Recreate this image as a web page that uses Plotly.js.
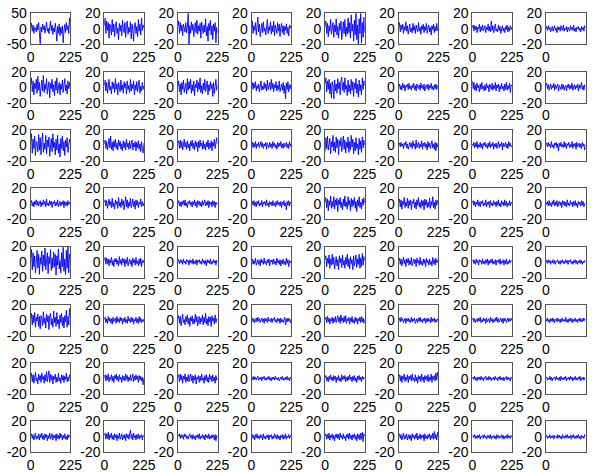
<!DOCTYPE html>
<html>
<head>
<meta charset="utf-8">
<script src="https://cdn.plot.ly/plotly-3.0.1.min.js"></script>
<style>
  html, body { margin: 0; padding: 0; background: #ffffff; }
  #chart { width: 597px; height: 472px; }
</style>
</head>
<body>
<div id="chart"></div>
<script>
// Sample axis: 51 samples spanning 0..225
const xStart = 0;
const xStep = 4.5;
const xTicks = [0, 225];
const xTickText = ['0', '225'];
const yTicksWide = [-50, 0, 50];
const yTicksNarrow = [-20, 0, 20];

// Channel traces, one row of the 8x8 grid per array
const row1 = [
  [5,18,-8,12,-15,6,2,-10,14,-4,20,-12,-48,6,-10,15,-3,10,-14,4,22,-8,2,-16,10,25,-6,12,-18,3,-10,18,-4,-40,8,-14,16,-22,5,-15,10,-45,-8,14,-12,20,-3,10,-15,35,8],
  [4,14,-6,10,-2,8,-12,6,2,-8,12,-4,6,-10,3,9,-6,1,-14,7,-3,5,-9,11,0,-5,8,-11,4,10,-7,2,-4,9,-13,6,-2,-16,5,8,-6,3,-10,12,-3,6,-8,14,-2,5,1],
  [4,10,-6,8,-3,5,-9,6,1,-4,8,-5,3,20,-20,4,-6,9,-2,6,-10,3,8,-5,11,-7,4,-3,7,-12,9,1,-6,5,-4,13,-9,3,-16,7,-2,11,-8,4,-14,6,-3,8,-18,2,-5],
  [2,10,-6,4,-2,8,-8,3,15,-4,6,-10,2,7,-5,9,-3,1,-8,6,12,-6,3,-2,9,-7,4,-4,10,-9,5,0,-6,8,-3,6,-10,2,7,-5,4,-8,3,-2,6,-6,2,-9,5,1,4],
  [3,10,-6,7,-10,4,-3,12,-7,2,8,-11,5,-4,13,-8,3,-12,7,-2,10,-14,4,9,-6,12,-10,2,-7,14,-5,8,-12,18,-3,6,-16,11,-8,20,-14,5,-20,13,-6,20,-18,8,-11,15,-5],
  [2,8,-4,5,-1,6,-6,3,-2,9,-3,4,-7,2,6,-4,1,-5,7,-2,3,-6,5,0,-4,8,-3,2,-7,4,-1,6,-5,3,-2,7,-6,1,5,-4,2,-8,4,-1,6,-5,3,-3,7,-2,1],
  [1,5,-3,4,-1,3,-5,2,0,6,-4,3,-2,5,-3,1,4,-5,2,-1,6,-3,3,-4,10,-2,4,-5,2,6,-3,0,-4,5,-2,3,-6,2,4,-3,1,-5,3,-1,5,-4,2,-3,4,-1,2],
  [0,3,-2,4,-1,2,-4,1,3,-3,0,4,-2,1,-5,3,-1,2,-3,4,0,-2,5,-3,1,-1,3,-4,2,0,-3,4,-1,2,-2,5,-3,1,-4,2,0,3,-2,1,-4,3,-1,2,-3,4,1]
];
const row2 = [
  [3,12,-6,8,-10,5,-2,10,-8,14,-4,6,-12,2,9,-5,15,-7,4,-3,11,-9,1,7,-14,5,-2,10,-6,3,-11,8,-4,12,-8,2,6,-10,4,-3,9,-7,1,11,-5,3,-9,8,-2,6,0],
  [2,9,-5,6,-8,3,10,-4,1,-9,7,-2,5,-7,11,-3,4,-10,6,0,-6,9,-4,3,-8,7,-1,5,-9,8,-3,2,-7,10,-5,4,-2,8,-10,3,-4,7,-6,2,9,-8,1,-5,6,-3,2],
  [1,8,-6,4,-10,6,-3,9,-7,2,5,-9,11,-4,7,-2,10,-8,3,-5,8,-11,4,-1,9,-6,6,-3,12,-7,2,-9,5,-4,10,-6,1,8,-10,3,-5,7,-2,4,-12,6,-8,3,10,-4,2],
  [2,6,-3,5,-1,7,-5,2,-2,4,-6,3,8,-4,1,-3,6,-2,4,-5,9,-3,2,6,-4,10,-2,5,-6,3,-1,7,-5,2,-3,8,-6,1,4,-4,6,-8,2,-15,5,-3,7,-6,3,-2,4],
  [4,12,-6,8,-3,10,-9,5,-14,7,2,-15,9,-5,4,-8,11,-2,6,-10,8,13,-4,6,-7,12,-3,2,-11,9,-6,3,-9,10,-4,7,-12,5,-2,11,-8,4,-13,9,-5,3,-10,12,-3,8,2],
  [1,4,-3,2,-4,5,-1,3,-5,2,0,4,-3,5,-2,1,-4,3,-1,5,-3,2,-5,4,0,-2,3,-4,5,-1,2,-3,4,-5,1,3,-2,4,-4,2,-1,5,-3,1,-4,3,-2,4,-3,2,0],
  [8,-2,6,-4,3,-5,5,-1,2,-6,4,-3,6,-2,1,-5,3,-4,5,-1,2,-6,4,0,-3,5,-4,2,-2,6,-5,3,-1,4,-6,2,-3,5,-2,1,-5,4,-3,6,-4,2,-2,5,-7,3,1],
  [2,5,-2,3,-4,1,4,-3,2,-1,5,-4,3,-2,1,4,-5,2,0,-3,4,-2,3,-4,1,2,-5,3,-1,4,-3,2,-2,5,-4,1,3,-3,2,-1,4,-5,3,-2,1,6,-3,2,-4,3,1]
];
const row3 = [
  [6,15,-10,8,-4,12,-13,5,2,-8,14,-6,10,-12,4,16,-9,3,-5,13,-11,7,-2,11,-14,6,9,-8,15,-3,4,-12,8,-6,13,-10,2,-15,9,-4,12,-7,5,-13,7,-2,10,-9,4,8,2],
  [2,7,-4,5,-6,3,9,-3,12,-5,4,-7,6,-2,8,-4,3,-6,7,-1,5,-5,2,-7,6,-3,4,-6,8,-2,3,-5,6,-4,1,7,-6,3,-2,5,-7,4,-3,6,-5,2,-8,5,-4,-10,3],
  [3,6,-4,7,-3,5,-6,2,8,-2,4,-5,6,-3,2,-7,5,-1,7,-4,3,-6,6,-2,4,-8,5,-3,7,-1,3,-5,6,-4,2,-6,4,-2,7,-5,3,-3,6,-7,4,-1,8,-4,5,10,2],
  [1,4,-3,3,-2,5,-4,2,-1,4,-3,1,5,-2,3,-4,2,-1,4,-5,3,0,-3,4,-2,2,-4,5,-1,3,-3,1,-5,4,-2,3,-1,5,-3,2,-4,3,-2,1,4,-3,2,-4,5,-1,2],
  [-8,10,-4,12,-6,3,9,-11,5,-2,13,-7,4,-9,11,-3,8,-12,6,-1,10,-8,3,12,-5,7,-10,4,-3,11,-9,5,-6,13,-2,8,-11,4,-7,10,-4,2,-12,9,-5,6,-9,11,-3,7,0],
  [1,3,-2,4,-1,2,-4,3,0,5,-3,2,-5,1,4,-2,3,-4,6,-1,2,-5,7,-3,1,4,-4,2,-2,6,-5,3,-1,4,-3,2,-6,5,-2,3,-4,1,6,-3,2,-5,4,-7,3,-2,1],
  [2,-1,4,-3,3,-2,5,-4,1,-2,4,-3,2,-5,3,0,4,-2,1,-4,3,-2,5,-3,2,-1,4,-5,2,-2,3,-4,1,5,-3,2,-1,4,-6,3,-2,1,4,-3,2,-4,5,-1,3,-2,0],
  [1,3,-2,4,-1,2,-3,5,-2,1,-4,3,0,4,-3,2,-7,3,-1,4,-2,1,-3,5,-2,3,-4,2,0,4,-3,1,-2,5,-4,2,-1,3,-5,4,-2,1,3,-3,2,-4,4,-1,2,-6,1]
];
const row4 = [
  [1,4,-3,2,-4,3,-1,5,-2,3,-3,1,4,-4,2,-2,5,-1,3,-4,6,-2,1,-3,4,-1,3,-5,2,0,4,-3,2,-2,5,-4,1,3,-3,2,-1,4,-5,3,-2,2,-3,4,-1,2,0],
  [2,5,-3,4,-6,2,6,-2,3,-5,7,-4,1,-7,5,-1,3,-6,8,-3,2,-5,6,-2,4,-8,3,9,-4,5,-6,2,-3,7,-5,1,6,-4,3,-7,5,-2,4,-5,2,-1,6,-4,3,-3,1],
  [0,4,-3,2,-4,3,-1,4,-2,5,-3,1,-5,3,0,4,-2,2,-4,3,-1,5,-3,2,-5,4,-1,3,-3,2,-4,4,-2,1,5,-3,2,-2,4,-5,3,-1,2,-4,4,-2,3,-5,2,-1,1],
  [1,3,-2,4,-3,2,-4,3,-1,4,-3,1,-2,4,-4,2,0,3,-3,5,-2,1,-4,3,-1,2,-3,4,-2,1,-4,3,-2,4,-1,2,-3,3,-5,2,-1,4,-3,1,-8,3,-2,4,-3,2,0],
  [2,8,-5,6,-9,4,-2,10,-6,3,-4,9,-7,5,-2,7,-10,5,-1,8,-5,2,-8,6,-3,10,-4,2,-7,9,-2,4,-9,7,-4,5,-2,8,-6,3,-10,5,-3,9,-5,2,-7,6,-2,8,1],
  [2,6,-4,5,-7,3,-1,8,-5,2,-3,7,-6,4,-2,5,-8,3,0,6,-5,2,-7,5,-2,8,-4,2,-6,5,-3,4,-8,6,-2,5,-5,2,-4,7,-6,3,-2,9,-5,2,-7,5,-2,4,1],
  [1,4,-2,3,-4,2,-1,5,-3,2,-4,3,0,4,-3,1,-2,5,-4,2,-1,3,-5,4,-2,1,-3,4,-1,2,-4,3,-2,5,-3,1,-4,4,-1,2,-3,5,-2,3,-4,1,-2,4,-3,2,0],
  [2,-1,3,-3,4,-2,1,-4,3,-1,5,-3,2,-2,4,-4,1,3,-2,2,-5,4,-1,3,-3,2,-4,5,-2,1,-3,4,-1,2,-4,3,-2,4,-3,1,-5,3,-1,2,-3,4,-2,3,-4,1,2]
];
const row5 = [
  [5,16,-10,12,-6,8,-14,4,15,-8,10,-16,6,-3,14,-12,9,-5,18,-10,3,12,-15,7,-2,16,-11,5,-8,13,-6,10,-17,8,-4,17,-9,2,-14,12,-6,19,-12,4,-16,15,-8,20,-14,10,6],
  [2,6,-3,5,-2,4,-5,3,-1,6,-4,2,-6,4,0,5,-3,2,-5,7,-2,3,-4,5,-1,4,-6,3,-2,6,-5,1,4,-3,2,-6,5,-1,3,-4,6,-2,1,-5,4,-3,5,-6,2,-1,3],
  [4,2,-2,3,-1,2,-3,4,-1,1,-3,3,0,2,-4,3,-1,2,-2,4,-3,1,-2,3,-4,2,0,3,-2,1,-3,4,-1,2,-3,2,-5,3,-1,2,-2,4,-3,1,-2,3,-1,2,-4,2,0],
  [1,4,-3,2,-2,5,-4,1,3,-3,2,-5,4,-1,2,-3,5,-2,1,-4,3,-1,4,-5,2,0,3,-3,4,-2,1,-4,5,-1,2,-3,3,-5,2,-2,4,-3,1,-4,5,-2,3,-6,2,-1,1],
  [3,8,-6,5,-2,9,-8,4,-4,10,-3,6,-9,2,7,-5,3,-10,8,-1,5,-7,9,-4,2,-8,6,-3,10,-6,4,-9,7,-2,3,-10,8,-5,1,9,-7,4,-3,10,-8,5,-6,11,-4,7,2],
  [1,5,-3,4,-5,2,6,-2,3,-6,4,-1,5,-4,2,-3,6,-5,1,4,-2,3,-6,5,-1,2,-4,6,-3,1,-5,4,-2,3,-6,5,-1,2,-4,4,-3,1,-5,6,-2,3,-4,5,-1,2,0],
  [1,3,-2,2,-3,4,-1,2,-4,3,0,2,-3,4,-2,1,-3,3,-1,4,-4,2,-2,3,-1,4,-3,1,-2,3,-4,2,0,3,-2,4,-3,1,-1,3,-4,2,-2,4,-3,1,-2,3,-1,2,1],
  [0,2,-2,3,-1,2,-3,1,-1,3,-2,2,-3,1,0,3,-2,1,-3,2,-1,3,-2,1,-2,3,-1,2,-3,2,0,3,-2,1,-3,2,-1,3,-2,2,-3,1,-1,3,-2,2,-3,1,-1,2,0]
];
const row6 = [
  [2,9,-6,7,-3,10,-9,4,-1,8,-8,5,-11,6,2,-7,11,-4,3,-10,8,-2,6,-12,5,9,-6,2,-9,12,-3,4,-8,10,-5,1,-11,7,-3,9,-7,4,-10,6,-2,13,-9,5,-6,15,4],
  [1,4,-3,2,-4,5,-1,3,-3,2,-5,4,-2,1,3,-4,5,-2,2,-3,4,-1,3,-5,2,-2,4,-3,1,-4,5,-1,2,-3,4,-2,3,-5,1,-1,4,-3,2,-4,5,-2,3,-3,1,-2,2],
  [2,6,-4,5,-7,2,8,-3,1,-6,5,-2,7,-5,3,-8,4,-1,6,-5,2,-4,8,-2,5,-7,2,5,-5,3,-2,7,-6,4,-3,9,-5,2,-7,5,-2,4,-8,6,-1,3,-5,7,-3,2,1],
  [1,3,-2,2,-3,1,3,-2,4,-1,2,-3,1,3,-2,2,-4,3,-1,2,-3,4,-1,1,-2,3,-3,2,0,4,-2,1,-3,3,-1,2,-4,3,-2,1,-3,2,4,-6,2,-2,3,-1,2,-3,1],
  [1,4,-3,5,-2,3,-5,2,-1,4,-4,3,-2,5,-3,1,6,-2,4,-4,7,-1,3,-3,5,-2,6,-4,2,-1,4,-5,3,-2,5,-3,1,-4,4,-2,3,-5,2,-1,4,-3,5,-2,3,-4,1],
  [0,3,-2,4,-1,2,-3,1,3,-4,2,-1,3,-2,1,-3,4,-2,2,-1,3,-4,1,2,-3,3,-1,4,-2,1,-3,2,-1,3,-4,2,-2,3,-1,1,-3,4,-2,2,-1,3,-3,1,-2,2,0],
  [1,3,-2,2,-3,1,2,-2,3,-1,4,-3,1,-2,3,-1,2,-4,3,-2,1,2,-3,4,-1,2,-3,1,-2,3,-1,4,-3,2,-2,1,3,-2,2,-4,3,-1,2,-3,1,3,-2,2,-1,3,0],
  [2,-1,3,-2,1,-3,2,-1,3,-2,2,-3,1,2,-2,3,-1,1,-3,2,-2,3,-1,1,-2,4,-2,1,-3,2,-1,3,-2,2,-3,1,-1,3,-2,1,-3,2,-1,3,-2,1,-2,3,-1,2,1]
];
const row7 = [
  [2,7,-4,5,-6,3,8,-3,1,-7,6,-2,4,-5,7,-1,3,-6,5,-3,9,-4,2,10,-5,6,-2,4,-7,3,-1,6,-5,2,-4,7,-3,1,-6,5,-2,4,-5,3,-1,7,-4,2,-3,5,1],
  [1,5,-3,4,-2,6,-4,2,-1,5,-3,3,-5,4,0,6,-2,3,-4,5,-1,2,-5,4,-2,3,-3,6,-1,4,-4,2,-2,5,-3,1,6,-4,3,-2,5,-1,3,-5,4,-2,3,-3,2,-8,1],
  [2,5,-4,6,-2,4,-6,3,-1,6,-5,2,-3,5,-4,1,6,-3,4,-6,3,-2,5,-7,2,-1,4,-5,3,-3,6,-2,1,-6,4,-2,5,-4,2,-5,6,-1,3,-4,5,-3,2,-6,4,-2,1],
  [1,2,-2,3,-1,2,-2,1,3,-2,1,-1,2,-3,2,0,3,-2,1,-2,2,-1,3,-2,1,-3,2,-1,2,-2,3,-1,1,-2,2,-3,1,2,-1,3,-2,1,-2,2,-1,3,-2,1,-3,2,0],
  [1,4,-3,2,-4,3,-1,5,-2,2,-3,4,-1,3,-5,2,-2,4,-3,1,-4,5,-2,3,-1,4,-4,2,-3,3,-2,5,-1,2,-4,3,-2,4,-3,1,-5,3,-1,4,-2,2,-4,3,-1,2,0],
  [2,5,-3,4,-5,3,-1,6,-4,2,-2,5,-5,3,-1,4,-3,6,-2,1,-4,5,-3,2,-6,4,-1,3,-4,6,-2,2,-5,4,-1,3,-3,5,-4,2,-2,6,-5,3,-1,4,-3,7,-2,8,3],
  [0,2,-1,3,-2,1,-3,2,-1,2,-2,3,-1,1,-3,2,0,3,-2,1,-2,3,-1,2,-3,1,-1,2,-2,3,-1,1,-3,2,-1,3,-2,1,-2,2,-3,1,0,3,-2,2,-1,1,-3,2,0],
  [1,2,-2,1,-1,3,-2,2,-3,1,0,2,-2,3,-1,1,-2,2,-3,3,-1,1,-2,2,-1,3,-3,1,-1,2,-2,3,-1,2,-3,1,-1,3,-2,1,-2,2,-1,3,-3,1,-1,2,-2,1,0]
];
const row8 = [
  [1,4,-2,3,-4,2,5,-3,1,-2,4,-4,3,-1,5,-3,2,-4,4,-1,3,-5,2,-2,5,-3,1,4,-4,2,-1,3,-5,4,-2,2,-3,5,-1,3,-4,2,-2,4,-3,1,-4,3,-1,2,1],
  [2,5,-3,4,-2,6,-4,3,-1,5,-3,2,-4,4,-1,3,-5,2,-2,5,-3,1,4,-4,2,-2,3,-5,4,-1,3,-3,2,9,-2,3,-4,5,-1,2,-4,3,-2,4,-3,2,-1,3,-4,2,0],
  [3,1,4,-2,3,-1,2,-3,4,0,3,-2,1,-3,2,4,-1,2,-3,3,-2,1,-4,2,-1,3,-2,4,-3,1,-1,3,-2,2,-4,3,-1,2,-2,4,-3,1,-2,3,-1,2,-4,3,-5,2,0],
  [1,3,-2,2,-4,3,-1,4,-2,1,-3,3,-1,2,-4,4,-2,1,-3,2,-1,3,-4,2,0,3,-3,1,-2,4,-1,2,-3,3,-2,1,-4,2,-1,3,-3,2,-2,4,-3,1,-1,3,-2,2,0],
  [1,4,-3,3,-2,5,-4,2,-1,4,-3,2,-5,3,-1,4,-2,3,-4,5,-1,2,-3,4,-2,1,-5,3,-1,4,-3,5,-2,2,-4,3,-1,4,-3,2,-5,4,-2,3,-4,5,-3,6,-6,4,1],
  [2,4,-2,3,-4,1,5,-3,2,-2,4,-4,1,3,-3,2,-5,4,-1,2,-3,3,-2,5,-4,1,-2,4,-3,2,-1,3,-5,4,-2,1,-3,3,-1,4,-4,2,-2,5,-3,7,-2,3,-4,6,1],
  [1,2,-1,3,-2,1,-2,2,-1,3,-3,1,0,2,-2,3,-1,1,-3,2,-1,2,-2,3,-3,1,-1,2,-2,1,-3,3,-1,2,-2,1,-1,3,-2,2,-3,1,-1,2,-2,3,-1,1,-2,2,0],
  [0,2,-2,1,-1,3,-2,1,-1,2,-3,2,0,1,-2,3,-1,2,-2,1,-3,3,-1,1,-2,2,-1,3,-2,1,-1,2,-3,2,-1,3,-2,1,-2,2,-1,3,-2,1,-3,2,-1,1,-2,3,1]
];

const grid = [row1, row2, row3, row4, row5, row6, row7, row8];

// Page geometry for the 8x8 panel grid (pixels)
const W = 597, H = 472;
const left0 = 30.7, colStep = 73.6, panelW = 39.6;
const top0 = 13.3, rowStep = 58.3, panelH = 31;

const tickFont = { family: 'Liberation Sans, Arial, sans-serif', size: 14, color: '#000000' };
const data = [];
const layout = {
  width: W, height: H,
  margin: { l: 0, r: 0, t: 0, b: 0 },
  paper_bgcolor: '#ffffff',
  plot_bgcolor: '#ffffff',
  showlegend: false
};

grid.forEach((row, r) => {
  row.forEach((series, c) => {
    const k = r * 8 + c + 1;
    const xa = k === 1 ? 'x' : 'x' + k;
    const ya = k === 1 ? 'y' : 'y' + k;
    const wide = (r === 0 && c === 0);
    const yt = wide ? yTicksWide : yTicksNarrow;

    data.push({
      type: 'scatter', mode: 'lines',
      x0: xStart, dx: xStep, y: series,
      xaxis: xa, yaxis: ya,
      line: { color: '#0000ff', width: 0.9 },
      hoverinfo: 'skip'
    });

    const L = left0 + c * colStep;
    const T = top0 + r * rowStep;
    const axCommon = {
      showline: true, mirror: true, linecolor: '#555555', linewidth: 1,
      showgrid: false, zeroline: false, ticks: '', tickfont: tickFont,
      fixedrange: true
    };
    layout['xaxis' + (k === 1 ? '' : k)] = Object.assign({}, axCommon, {
      domain: [L / W, (L + panelW) / W],
      range: [0, 225],
      tickvals: xTicks, ticktext: xTickText,
      anchor: ya
    });
    layout['yaxis' + (k === 1 ? '' : k)] = Object.assign({}, axCommon, {
      domain: [1 - (T + panelH) / H, 1 - T / H],
      range: [yt[0], yt[2]],
      tickvals: yt, ticktext: yt.map(String),
      anchor: xa
    });
  });
});

Plotly.newPlot('chart', data, layout, { staticPlot: true, displayModeBar: false });
</script>
</body>
</html>
